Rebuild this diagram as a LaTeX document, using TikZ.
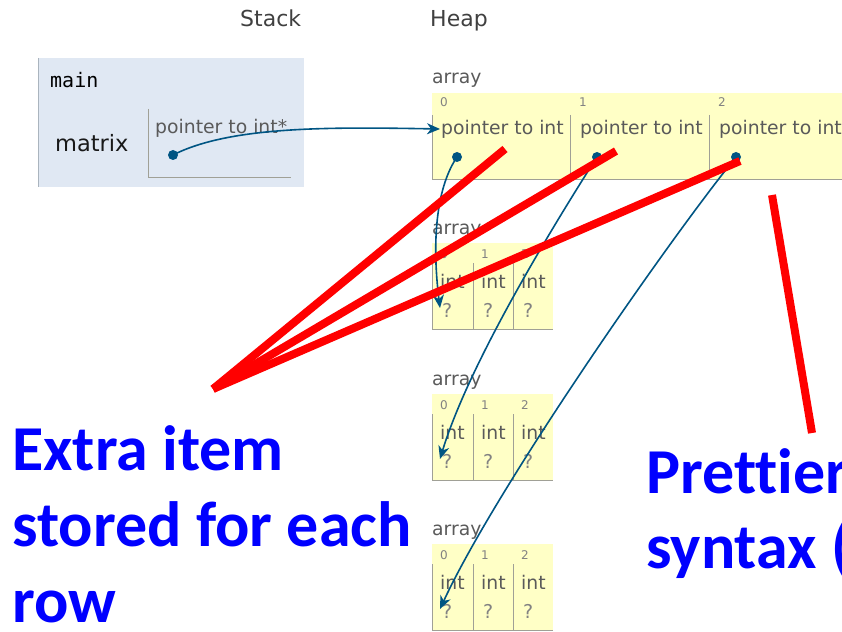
\documentclass[tikz,border=0pt]{standalone}
\usepackage{fontspec}
\setmainfont{DejaVu Sans}
\newfontfamily\codefont{DejaVu Sans Mono}
\newfontfamily\calloutfont{Carlito}[Ligatures=NoCommon]
\usetikzlibrary{arrows.meta}
\definecolor{stackbg}{RGB}{224,232,243}
\definecolor{stackedge}{RGB}{170,180,190}
\definecolor{heapbg}{RGB}{255,255,198}
\definecolor{ptr}{RGB}{0,85,131}
\definecolor{txtgray}{RGB}{90,90,90}
\definecolor{idxgray}{RGB}{130,130,130}
\definecolor{cellline}{RGB}{160,160,150}
\definecolor{callblue}{RGB}{0,0,255}
\begin{document}
\begin{tikzpicture}[x=1pt,y=-1pt,
  hdr/.style={font=\fontsize{22}{24}\selectfont, text=black!75, inner sep=0, anchor=base west},
  framename/.style={font=\codefont\fontsize{20}{22}\selectfont, text=black, inner sep=0, anchor=base west},
  varname/.style={font=\fontsize{22.5}{24}\selectfont, text=black!90, inner sep=0, anchor=base west},
  typelbl/.style={font=\fontsize{18.8}{20}\selectfont, text=txtgray, inner sep=0, anchor=base west},
  idx/.style={font=\fontsize{12}{13}\selectfont, text=idxgray, inner sep=0, anchor=base west},
  qmark/.style={font=\fontsize{19}{20}\selectfont, text=idxgray, inner sep=0, anchor=base west},
  cellrule/.style={draw=cellline, line width=1pt},
  ptrdot/.style={circle, fill=ptr, inner sep=0, minimum size=10pt},
  ptrarrow/.style={draw=ptr, line width=1.6pt, -{Stealth[length=13pt,width=11pt,inset=4pt]}},
  redline/.style={draw=red, line width=8pt},
  callout/.style={font=\calloutfont\bfseries\fontsize{64}{76}\selectfont, text=callblue, inner sep=0, anchor=base west}
]
\useasboundingbox (0,0) rectangle (842,631);

% headers
\node[hdr] (stackhdr) at (240,27) {Stack};
\node[hdr] (heaphdr) at (430,27) {Heap};

% stack frame
\fill[stackbg] (38,58) rectangle (304,187);
\draw[stackedge, line width=1pt] (38,58) -- (38,187);
\node[framename] (mainlbl) at (50,88) {main};
\node[varname] (matrixlbl) at (55,152) {matrix};
\draw[cellrule] (148,109) -- (148,177) -- (291,177);
\node[typelbl] (stype) at (155,134) {pointer to int*};
\node[ptrdot] (sdot) at (173,155) {};

% top heap array
\node[typelbl] (toparr) at (432,84) {array};
\fill[heapbg] (432,93) rectangle (850,179);
\draw[cellrule] (432,115) -- (432,179) -- (850,179);
\draw[cellrule] (570,115) -- (570,179);
\draw[cellrule] (709,115) -- (709,179);
\node[idx] (ti0) at (440,107) {0};
\node[idx] (ti1) at (579,107) {1};
\node[idx] (ti2) at (718,107) {2};
\node[typelbl] (tc0) at (441,135) {pointer to int};
\node[typelbl] (tc1) at (580,135) {pointer to int};
\node[typelbl] (tc2) at (719,135) {pointer to int};
\node[ptrdot] (d0) at (457,157) {};
\node[ptrdot] (d1) at (597,157) {};
\node[ptrdot] (d2) at (736,157) {};
\coordinate (topin) at (440,129);

% row arrays
\foreach \k/\o in {0/0,1/151,2/301}{
  \node[typelbl] (r\k lbl) at (432,234+\o) {array};
  \fill[heapbg] (432,243+\o) rectangle (553,329+\o);
  \draw[cellrule] (432,263+\o) -- (432,329+\o) -- (553,329+\o);
  \draw[cellrule] (473,263+\o) -- (473,329+\o);
  \draw[cellrule] (513,263+\o) -- (513,329+\o);
  \node[idx] (r\k i0) at (440,258+\o) {0};
  \node[idx] (r\k i1) at (481,258+\o) {1};
  \node[idx] (r\k i2) at (521,258+\o) {2};
  \node[typelbl] (r\k t0) at (440,288+\o) {int};
  \node[typelbl] (r\k t1) at (481,288+\o) {int};
  \node[typelbl] (r\k t2) at (521,288+\o) {int};
  \node[qmark] (r\k q0) at (442,317+\o) {?};
  \node[qmark] (r\k q1) at (483,317+\o) {?};
  \node[qmark] (r\k q2) at (523,317+\o) {?};
  \coordinate (r\k in) at (440,308+\o);
}

% pointer arrows
\draw[ptrarrow] (sdot.center) .. controls (230,126) and (330,127) .. (topin);
\draw[ptrarrow] (d0.center) .. controls (438,185) and (431,235) .. (r0in);
\draw[ptrarrow] (d1.center) .. controls (560,215) and (470,360) .. (r1in);
\draw[ptrarrow] (d2.center) .. controls (665,245) and (495,490) .. (r2in);

% red annotation lines
\coordinate (rfan) at (213,389);
\coordinate (rend0) at (505,149);
\coordinate (rend1) at (616,151);
\coordinate (rend2) at (740,161);
\coordinate (rtop) at (772,195);
\coordinate (rbot) at (812,433);
\draw[redline] (rfan) -- (rend0);
\draw[redline] (rfan) -- (rend1);
\draw[redline] (rfan) -- (rend2);
\draw[redline] (rtop) -- (rbot);

% callouts
\node[callout] (ex1) at (12,470) {Extra item};
\node[callout] (ex2) at (12,546) {stored for each};
\node[callout] (ex3) at (12,622) {row};
\node[callout] (pr1) at (646,493) {Prettier};
\node[callout] (pr2) at (646,568) {syntax (};
\end{tikzpicture}
\end{document}
